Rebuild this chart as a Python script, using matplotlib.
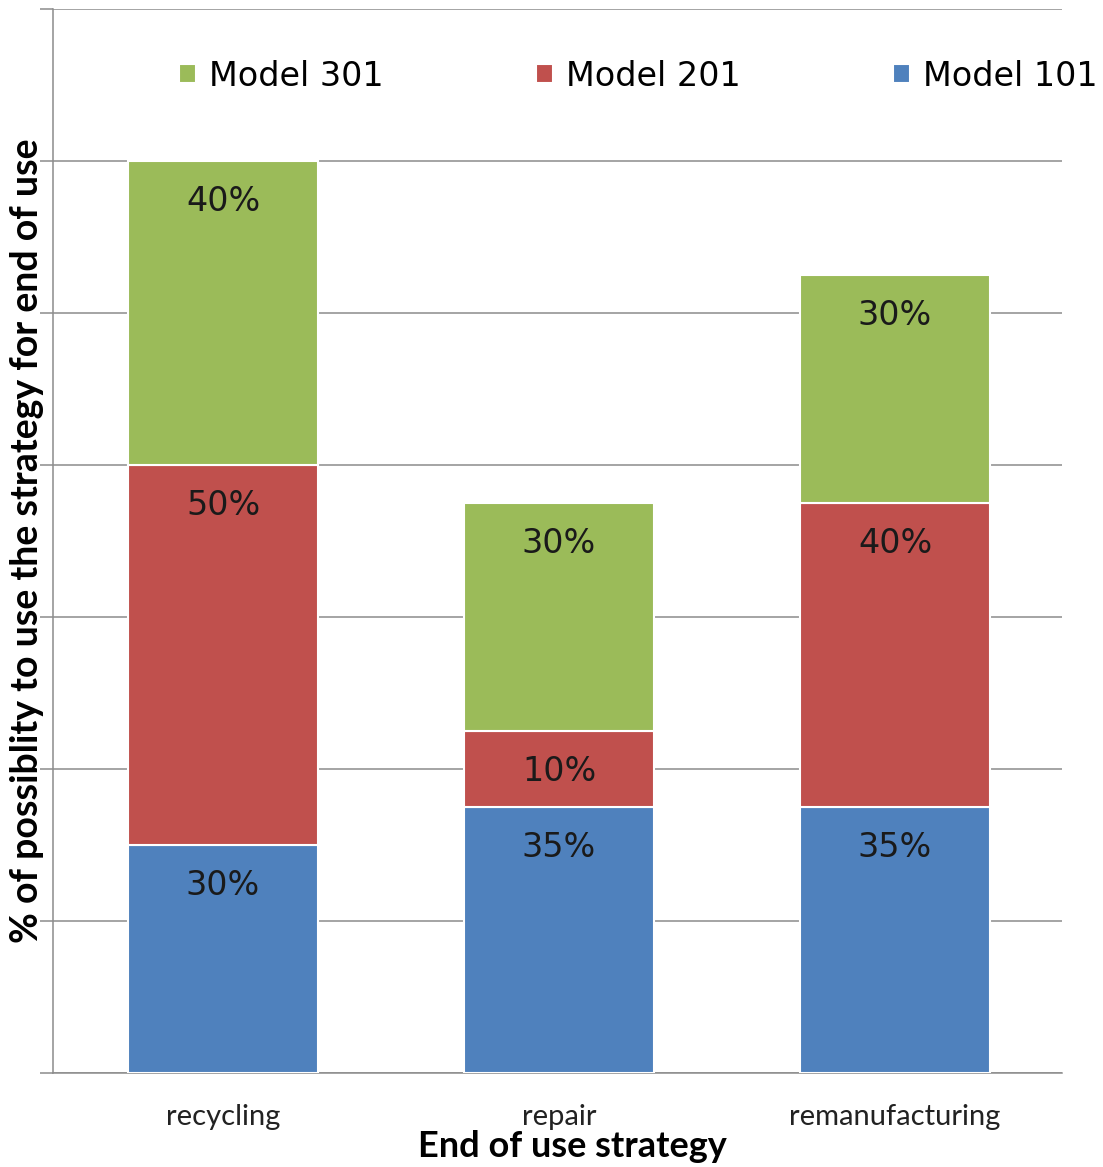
import matplotlib.pyplot as plt
import numpy as np

# datos del grafico
estrategias = ["recycling", "repair", "remanufacturing"]
model_101 = [30, 35, 35]
model_201 = [50, 10, 40]
model_301 = [40, 30, 30]

azul = "#4F81BD"
rojo = "#C0504D"
verde = "#9BBB59"
gris = "#8c8c8c"

fig = plt.figure(figsize=(11.03, 11.67), dpi=100)
ax = fig.add_axes([53 / 1103, 1 - 1073 / 1167, 1009 / 1103, 1064 / 1167])

x = np.arange(len(estrategias))
ancho = 0.565

b1 = ax.bar(x, model_101, ancho, color=azul, edgecolor="white", linewidth=1.5, label="Model 101", zorder=3)
base = np.array(model_101)
b2 = ax.bar(x, model_201, ancho, bottom=base, color=rojo, edgecolor="white", linewidth=1.5, label="Model 201", zorder=3)
base = base + np.array(model_201)
b3 = ax.bar(x, model_301, ancho, bottom=base, color=verde, edgecolor="white", linewidth=1.5, label="Model 301", zorder=3)

# etiquetas de porcentaje cerca del borde superior de cada segmento
for barras, valores in [(b1, model_101), (b2, model_201), (b3, model_301)]:
    for rect, v in zip(barras, valores):
        xc = rect.get_x() + rect.get_width() / 2
        ytop = rect.get_y() + rect.get_height()
        ax.text(xc, ytop - 5.3, f"{v}%", ha="center", va="center",
                fontsize=24, color="#1a1a1a", zorder=4)

ax.set_xlim(-0.506, 2.497)
ax.set_ylim(0, 140)
ax.set_yticks(np.arange(0, 141, 20))
ax.set_yticklabels([])
ax.tick_params(axis="y", length=9.5, width=1.1, color=gris, direction="out")
ax.tick_params(axis="x", length=0, labelsize=21, pad=22, labelcolor="#222222")
ax.set_xticks(x)
ax.set_xticklabels(estrategias, family="Lato")
ax.grid(axis="y", color=gris, linewidth=1.1, zorder=0)

for lado in ["top", "right"]:
    ax.spines[lado].set_visible(False)
for lado in ["left", "bottom"]:
    ax.spines[lado].set_color(gris)
    ax.spines[lado].set_linewidth(1.1)

ax.set_ylabel("% of possiblity to use the strategy for end of use", family="Lato",
              fontweight="bold", fontsize=27)
ax.yaxis.set_label_coords(-0.009, 0.5)
ax.set_xlabel("End of use strategy", family="Lato", fontweight="bold", fontsize=26)
ax.xaxis.set_label_coords(0.515, -0.054)

handles = [b3, b2, b1]
ax.legend(handles, ["Model 301", "Model 201", "Model 101"], ncol=3, frameon=False,
          loc="center", bbox_to_anchor=(0.58, 0.937), fontsize=24,
          handlelength=0.52, handleheight=0.52, handletextpad=0.4, columnspacing=4.55)

plt.savefig("out.png", dpi=100)
